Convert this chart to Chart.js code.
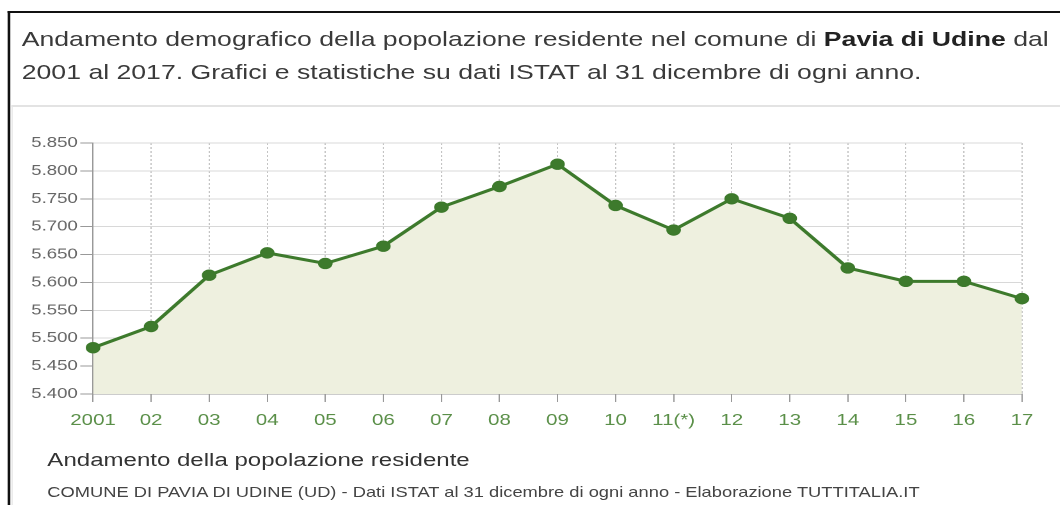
<!DOCTYPE html>
<html lang="it">
<head>
  <meta charset="UTF-8">
  <title>Andamento demografico - Pavia di Udine</title>
  <script src="https://cdn.jsdelivr.net/npm/chart.js"></script>
  <style>
    html, body {
      margin: 0;
      padding: 0;
      background: #fff;
      overflow: hidden;
      font-family: "Liberation Sans", Arial, sans-serif;
    }
    /* the reference screenshot is stretched horizontally, so the page is laid out narrow and scaled */
    #page {
      position: absolute;
      left: 0;
      top: 0;
      width: 828px;
      height: 505px;
      transform: scaleX(1.28);
      transform-origin: 0 0;
    }
    .frame {
      position: absolute;
      left: 6px;
      top: 11px;
      right: -30px;
      bottom: -30px;
      border-top: 2px solid #111;
      border-left: 2px solid #111;
    }
    .intro {
      position: absolute;
      left: 17px;
      top: 22px;
      margin: 0;
      font-size: 20.8px;
      line-height: 33px;
      color: #3a3a3a;
      white-space: nowrap;
    }
    .intro b {
      color: #222;
    }
    .panel {
      position: absolute;
      left: 9px;
      top: 105px;
      right: -30px;
      bottom: -30px;
      border-top: 2px solid #e3e3e3;
      border-left: 1px solid #e6e6e6;
    }
    .chart-box {
      position: absolute;
      left: 0;
      top: 106px;
      width: 828px;
      height: 340px;
    }
    .subtitle {
      position: absolute;
      left: 37px;
      top: 449px;
      font-size: 18.8px;
      line-height: 22px;
      color: #333;
      white-space: nowrap;
    }
    .source {
      position: absolute;
      left: 37px;
      top: 484px;
      font-size: 14.3px;
      line-height: 16px;
      color: #444;
      white-space: nowrap;
    }
  </style>
</head>
<body>
  <div id="page">
    <div class="frame"></div>
    <p class="intro">Andamento demografico della popolazione residente nel comune di <b>Pavia di Udine</b> dal<br>2001 al 2017. Grafici e statistiche su dati ISTAT al 31 dicembre di ogni anno.</p>
    <div class="panel"></div>
    <div class="chart-box"><canvas id="popChart"></canvas></div>
    <div class="subtitle">Andamento della popolazione residente</div>
    <div class="source">COMUNE DI PAVIA DI UDINE (UD) - Dati ISTAT al 31 dicembre di ogni anno - Elaborazione TUTTITALIA.IT</div>
  </div>

  <script>
    const years = ['2001', '02', '03', '04', '05', '06', '07', '08', '09', '10', '11(*)', '12', '13', '14', '15', '16', '17'];
    const residents = [5483, 5521, 5613, 5653, 5634, 5665, 5735, 5772, 5812, 5738, 5694, 5750, 5715, 5626, 5602, 5602, 5571];
    const yTickValues = [5400, 5450, 5500, 5550, 5600, 5650, 5700, 5750, 5800, 5850];

    // 5850 -> "5.850"
    const formatIt = v => String(v).replace(/\B(?=(\d{3})+(?!\d))/g, '.');

    Chart.defaults.font.family = '"Liberation Sans", Arial, sans-serif';

    const ctx = document.getElementById('popChart').getContext('2d');
    new Chart(ctx, {
      type: 'line',
      data: {
        labels: years,
        datasets: [{
          label: 'Popolazione residente',
          data: residents,
          borderColor: '#3d7a2c',
          borderWidth: 3,
          backgroundColor: '#eef0df',
          fill: 'start',
          tension: 0,
          pointRadius: 5.2,
          pointBackgroundColor: '#3d7a2c',
          pointBorderColor: '#3d7a2c',
          pointBorderWidth: 1
        }]
      },
      options: {
        responsive: true,
        maintainAspectRatio: false,
        devicePixelRatio: 2,
        animation: false,
        layout: {
          padding: { left: 0, right: 29.6, top: 37, bottom: 0 }
        },
        plugins: {
          legend: { display: false },
          tooltip: { enabled: false }
        },
        scales: {
          x: {
            afterFit: scale => { scale.height = 52; },
            grid: {
              color: '#c4c4c4',
              tickColor: '#999',
              tickLength: 8,
              tickBorderDash: []
            },
            border: { color: '#999', width: 1, dash: [2, 2] },
            ticks: {
              color: '#5a8f48',
              padding: 9,
              maxRotation: 0,
              autoSkip: false,
              font: { size: 16 }
            }
          },
          y: {
            min: 5400,
            max: 5850,
            afterFit: scale => { scale.width = 72.7; },
            afterBuildTicks: scale => {
              scale.ticks = yTickValues.map(v => ({ value: v }));
            },
            grid: {
              color: '#d8d8d8',
              tickColor: '#999',
              tickLength: 10
            },
            border: { color: '#999', width: 1 },
            ticks: {
              color: '#666',
              padding: 2,
              font: { size: 14.5 },
              callback: value => formatIt(value)
            }
          }
        }
      }
    });
  </script>
</body>
</html>
